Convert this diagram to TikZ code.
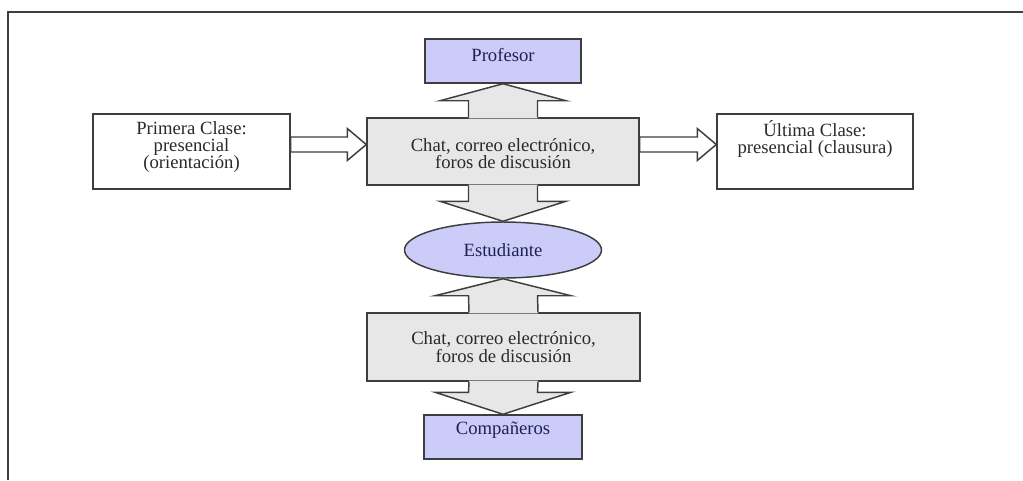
\documentclass[tikz,border=0pt]{standalone}
\usepackage{fontspec}
\setmainfont{Liberation Serif}
\usetikzlibrary{calc,shapes.geometric}
\definecolor{lila}{RGB}{204,204,248}
\definecolor{grisclaro}{RGB}{231,231,231}
\definecolor{trazo}{RGB}{62,62,62}
\definecolor{tinta}{RGB}{42,42,42}
\definecolor{azulosc}{RGB}{32,32,88}

\tikzset{every picture/.style={line width=1.1pt}}

\begin{document}
\begin{tikzpicture}[x=0.75pt,y=0.75pt,yscale=-1,xscale=1,
  caja/.style={draw=trazo,rectangle,inner sep=0pt},
  texto/.style={inner sep=0pt,align=center,text=tinta,font=\fontsize{14}{13}\selectfont},
  textoaz/.style={texto,text=azulosc},
  flecha/.style={draw=trazo,fill=white}]
\useasboundingbox (0,0) rectangle (1023,480);
%Frame
\draw[trazo,line width=1.5pt] (8,480) -- (8,12) -- (1023,12) ;

%Boxes
\node[caja,fill=white,minimum width=147.75pt,minimum height=56.25pt] (prim) at (191.5,151.5) {};
\node[caja,fill=white,minimum width=147pt,minimum height=56.25pt] (ult) at (815,151.5) {};
\node[caja,fill=lila,minimum width=117pt,minimum height=33pt] (prof) at (503,61) {};
\node[caja,fill=grisclaro,minimum width=204pt,minimum height=50.25pt] (medio1) at (503,151.5) {};
\node[draw=trazo,ellipse,fill=lila,inner sep=0pt,minimum width=147.75pt,minimum height=42pt] (est) at (503,250) {};
\node[caja,fill=grisclaro,minimum width=204.75pt,minimum height=51pt] (medio2) at (503.5,347) {};
\node[caja,fill=lila,minimum width=118.5pt,minimum height=33pt] (comp) at (503,437) {};

%Profesor <-> medio1
\fill[grisclaro] ($(medio1.north)+(-34.5,1)$) -- ($(prof.south)+(-34.5,17)$) -- ($(prof.south)+(-63,17)$) -- (prof.south) -- ($(prof.south)+(63,17)$) -- ($(prof.south)+(34.5,17)$) -- ($(medio1.north)+(34.5,1)$) -- cycle ;
\draw[trazo] ($(medio1.north)+(-34.5,0)$) -- ($(prof.south)+(-34.5,17)$) -- ($(prof.south)+(-63,17)$) -- (prof.south) -- ($(prof.south)+(63,17)$) -- ($(prof.south)+(34.5,17)$) -- ($(medio1.north)+(34.5,0)$) ;
%medio1 -> Estudiante
\fill[grisclaro] ($(medio1.south)+(-34.5,-1)$) -- ($(est.north)+(-34.5,-20)$) -- ($(est.north)+(-63,-20)$) -- (est.north) -- ($(est.north)+(63,-20)$) -- ($(est.north)+(34.5,-20)$) -- ($(medio1.south)+(34.5,-1)$) -- cycle ;
\draw[trazo] ($(medio1.south)+(-34.5,0)$) -- ($(est.north)+(-34.5,-20)$) -- ($(est.north)+(-63,-20)$) -- (est.north) -- ($(est.north)+(63,-20)$) -- ($(est.north)+(34.5,-20)$) -- ($(medio1.south)+(34.5,0)$) ;
%Estudiante <- medio2
\fill[grisclaro] ($(medio2.north)+(-34.5,1)$) -- ($(est.south)+(-34.5,17)$) -- ($(est.south)+(-68,17)$) -- (est.south) -- ($(est.south)+(68,17)$) -- ($(est.south)+(34.5,17)$) -- ($(medio2.north)+(34.5,1)$) -- cycle ;
\draw[trazo] ($(medio2.north)+(-34.5,0)$) -- ($(est.south)+(-34.5,17)$) -- ($(est.south)+(-68,17)$) -- (est.south) -- ($(est.south)+(68,17)$) -- ($(est.south)+(34.5,17)$) -- ($(medio2.north)+(34.5,0)$) ;
%medio2 -> Compañeros
\fill[grisclaro] ($(medio2.south)+(-34.5,-1)$) -- ($(comp.north)+(-34.5,-22)$) -- ($(comp.north)+(-68,-22)$) -- (comp.north) -- ($(comp.north)+(68,-22)$) -- ($(comp.north)+(34.5,-22)$) -- ($(medio2.south)+(34.5,-1)$) -- cycle ;
\draw[trazo] ($(medio2.south)+(-34.5,0)$) -- ($(comp.north)+(-34.5,-22)$) -- ($(comp.north)+(-68,-22)$) -- (comp.north) -- ($(comp.north)+(68,-22)$) -- ($(comp.north)+(34.5,-22)$) -- ($(medio2.south)+(34.5,0)$) ;

%Primera clase -> medio1
\filldraw[flecha] ($(prim.east)+(0,-14.5)$) -- ($(medio1.west)+(-19,-14.5)$) -- ($(medio1.west)+(-19,-23)$) -- ($(medio1.west)+(0,-7)$) -- ($(medio1.west)+(-19,9)$) -- ($(medio1.west)+(-19,0.5)$) -- ($(prim.east)+(0,0.5)$) -- cycle ;
%medio1 -> Ultima clase
\filldraw[flecha] ($(medio1.east)+(0,-14.5)$) -- ($(ult.west)+(-19,-14.5)$) -- ($(ult.west)+(-19,-23)$) -- ($(ult.west)+(0,-7)$) -- ($(ult.west)+(-19,9)$) -- ($(ult.west)+(-19,0.5)$) -- ($(medio1.east)+(0,0.5)$) -- cycle ;

% Text Node
\node[texto] (primT) at ($(prim.center)+(0,-4.5)$) {Primera Clase:\\presencial\\(orientación)};
\node[texto] (ultT) at ($(ult.center)+(0,-12.5)$) {Última Clase:\\presencial (clausura)};
\node[textoaz] (profT) at ($(prof.center)+(0,-6)$) {Profesor};
\node[texto] (medio1T) at ($(medio1.center)+(0,2)$) {Chat, correo electrónico,\\foros de discusión};
\node[textoaz] (estT) at (est.center) {Estudiante};
\node[texto] (medio2T) at (medio2.center) {Chat, correo electrónico,\\foros de discusión};
\node[textoaz] (compT) at ($(comp.center)+(0,-7)$) {Compañeros};
\end{tikzpicture}
\end{document}
